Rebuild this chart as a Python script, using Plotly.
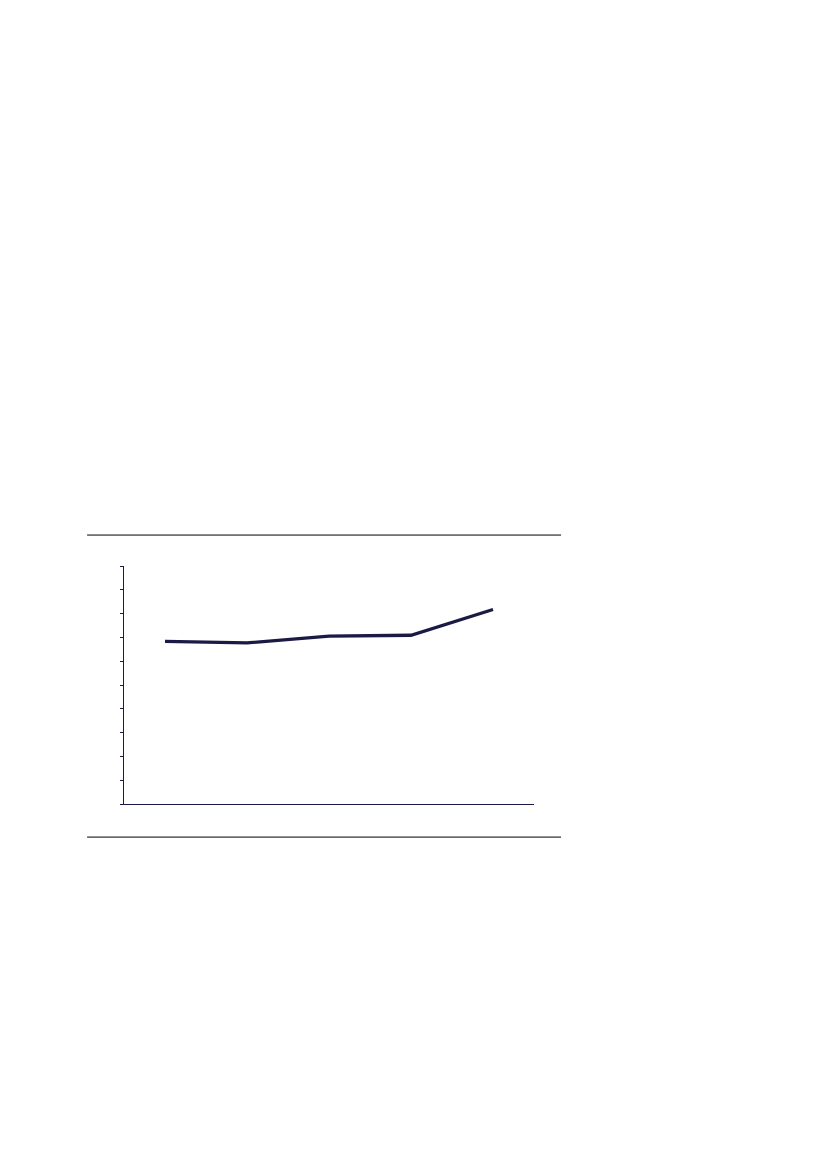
import plotly.graph_objects as go

# five periods, no labels visible in the picture
periods = ["1", "2", "3", "4", "5"]
values = [6.83, 6.77, 7.05, 7.09, 8.17]

navy = "#1b1a45"

fig = go.Figure()
fig.add_trace(go.Scatter(x=periods, y=values, mode="lines",
                         line=dict(color=navy, width=3.3), showlegend=False))

fig.update_xaxes(type="category", range=[-0.5, 4.5], showline=True, linecolor=navy,
                 linewidth=1, showgrid=False, zeroline=False, showticklabels=False, ticks="")
fig.update_yaxes(range=[0, 10], dtick=1, showline=True, linecolor=navy, linewidth=1,
                 ticks="outside", ticklen=3, tickcolor=navy, showgrid=False,
                 zeroline=False, showticklabels=False)

# horizontal rules above and below the chart
for yy in [1.13, -0.139]:
    fig.add_shape(type="line", xref="paper", yref="paper", x0=-0.09, x1=1.066,
                  y0=yy, y1=yy, line=dict(color="black", width=1))

# page body adds an 8px margin, so the figure is a bit smaller than the window
fig.update_layout(width=811, height=1153, plot_bgcolor="white", paper_bgcolor="white",
                  margin=dict(l=116, r=285, t=558, b=357))

fig.write_html("out.html")
